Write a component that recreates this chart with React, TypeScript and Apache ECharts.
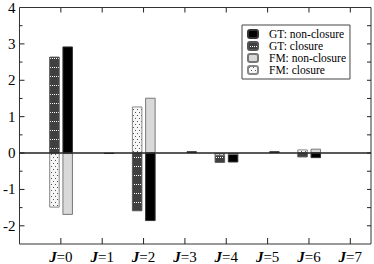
import React, { useEffect, useRef } from "react";
import * as echarts from "echarts";

const J_VALUES = [0, 1, 2, 3, 4, 5, 6, 7];
const SERIES_NAMES = ["GT: non-closure", "GT: closure", "FM: non-closure", "FM: closure"];
const GT_NON_CLOSURE = [2.93, -0.02, -1.87, 0.05, -0.26, 0.05, -0.14, null];
const GT_CLOSURE = [2.65, null, -1.6, null, -0.27, null, -0.12, null];
const FM_NON_CLOSURE = [-1.7, null, 1.52, null, -0.05, null, 0.12, null];
const FM_CLOSURE = [-1.5, null, 1.28, null, -0.07, null, 0.1, null];
const Y_TICKS = [-2, -1.5, -1, -0.5, 0, 0.5, 1, 1.5, 2, 2.5, 3, 3.5];

const X_MIN = -1;
const X_MAX = 7.5;
const Y_MIN = -2.5;
const Y_MAX = 4;
const CLOSURE_OFFSET = -0.155;
const NON_CLOSURE_OFFSET = 0.165;
const FONT = "'Liberation Serif', 'Times New Roman', serif";

function makeCanvas(w: number, h: number, draw: (ctx: CanvasRenderingContext2D) => void) {
  const c = document.createElement("canvas");
  c.width = w;
  c.height = h;
  const ctx = c.getContext("2d")!;
  draw(ctx);
  return c;
}

function toData(values: (number | null)[], offset: number) {
  return J_VALUES.map((j, i) => [j + offset, values[i]]).filter((d) => d[1] !== null);
}

const tickStyle = { stroke: "#222222", lineWidth: 1, fill: null };

export default function App() {
  const ref = useRef<HTMLDivElement>(null);
  useEffect(() => {
    document.body.style.margin = "0";
    if (!ref.current) return;
    const chart = echarts.init(ref.current, null, { renderer: "svg" });

    const gtClosureCanvas = makeCanvas(4, 9, (ctx) => {
      ctx.fillStyle = "#404040";
      ctx.fillRect(0, 0, 4, 9);
      ctx.fillStyle = "#ffffff";
      ctx.fillRect(0, 4, 1, 1);
      ctx.fillRect(2, 4, 1, 1);
    });
    const fmClosureCanvas = makeCanvas(8, 6, (ctx) => {
      ctx.fillStyle = "#f6f6f6";
      ctx.fillRect(0, 0, 8, 6);
      ctx.fillStyle = "#555555";
      ctx.fillRect(1, 1, 1, 1);
      ctx.fillRect(5, 1, 1, 1);
      ctx.fillRect(3, 4, 1, 1);
      ctx.fillRect(7, 4, 1, 1);
    });

    const barCommon = {
      type: "bar" as const,
      barWidth: 10.5,
      barGap: "-100%",
      xAxisIndex: 0,
      yAxisIndex: 0,
    };

    const option: any = {
      animation: false,
      backgroundColor: "#ffffff",
      textStyle: { fontFamily: FONT },
      grid: {
        left: 18,
        top: 7,
        right: 2,
        bottom: 17,
        show: true,
        borderColor: "#333333",
        borderWidth: 1,
        backgroundColor: "transparent",
      },
      legend: {
        orient: "vertical",
        left: 242,
        top: 25,
        itemWidth: 10,
        itemHeight: 8,
        itemGap: 0,
        padding: [3, 4, 3, 5],
        borderColor: "#444444",
        borderWidth: 1,
        backgroundColor: "#ffffff",
        data: SERIES_NAMES,
        textStyle: {
          fontFamily: FONT,
          fontSize: 11.5,
          lineHeight: 11.5,
          color: "#000000",
          padding: [0, 0, 0, 6],
        },
      },
      xAxis: {
        type: "value",
        min: X_MIN,
        max: X_MAX,
        interval: 1,
        splitLine: { show: false },
        axisLine: { show: false, onZero: false },
        axisTick: { show: false },
        axisLabel: {
          margin: 5,
          formatter: (v: number) => (J_VALUES.includes(v) ? `{j|J}=${v}` : ""),
          fontFamily: FONT,
          fontSize: 15,
          color: "#000",
          rich: {
            j: { fontFamily: FONT, fontSize: 15, fontWeight: "bold", fontStyle: "italic", color: "#000" },
          },
        },
      },
      yAxis: {
        type: "value",
        min: Y_MIN,
        max: Y_MAX,
        interval: 0.5,
        splitLine: { show: false },
        axisLine: { show: false, onZero: false },
        axisTick: { show: false },
        axisLabel: {
          margin: 4,
          fontFamily: FONT,
          fontSize: 15,
          color: "#000",
          formatter: (v: number) => (Number.isInteger(v) ? String(v) : ""),
        },
      },
      series: [
        {
          ...barCommon,
          name: SERIES_NAMES[0],
          data: toData(GT_NON_CLOSURE, NON_CLOSURE_OFFSET),
          itemStyle: { color: "#000000", borderColor: "#333333", borderWidth: 1 },
        },
        {
          ...barCommon,
          name: SERIES_NAMES[1],
          data: toData(GT_CLOSURE, CLOSURE_OFFSET),
          itemStyle: {
            color: { image: gtClosureCanvas, repeat: "repeat", imageWidth: 4, imageHeight: 9 },
            borderColor: "#555555",
            borderWidth: 1,
          },
        },
        {
          ...barCommon,
          name: SERIES_NAMES[2],
          data: toData(FM_NON_CLOSURE, NON_CLOSURE_OFFSET),
          itemStyle: { color: "#d9d9d9", borderColor: "#777777", borderWidth: 1 },
        },
        {
          ...barCommon,
          name: SERIES_NAMES[3],
          data: toData(FM_CLOSURE, CLOSURE_OFFSET),
          itemStyle: {
            color: { image: fmClosureCanvas, repeat: "repeat", imageWidth: 8, imageHeight: 6 },
            borderColor: "#888888",
            borderWidth: 1,
          },
          markLine: {
            silent: true,
            symbol: "none",
            label: { show: false },
            lineStyle: { color: "#222222", width: 1.5, type: "solid" },
            data: [{ yAxis: 0 }],
          },
        },
        {
          type: "custom",
          name: "x-ticks",
          silent: true,
          clip: false,
          z: 10,
          xAxisIndex: 0,
          yAxisIndex: 0,
          data: J_VALUES.map((j) => [j, Y_MIN]),
          renderItem: (params: any, api: any) => {
            const x = api.value(0);
            const b = api.coord([x, Y_MIN]);
            const t = api.coord([x, Y_MAX]);
            return {
              type: "group",
              children: [
                { type: "line", shape: { x1: b[0], y1: b[1], x2: b[0], y2: b[1] - 6 }, style: tickStyle },
                { type: "line", shape: { x1: t[0], y1: t[1], x2: t[0], y2: t[1] + 5 }, style: tickStyle },
              ],
            };
          },
        },
        {
          type: "custom",
          name: "y-ticks",
          silent: true,
          clip: false,
          z: 10,
          xAxisIndex: 0,
          yAxisIndex: 0,
          data: Y_TICKS.map((v) => [X_MIN, v]),
          renderItem: (params: any, api: any) => {
            const v = api.value(1);
            const l = api.coord([X_MIN, v]);
            const r = api.coord([X_MAX, v]);
            const len = Number.isInteger(v) ? 5 : 3;
            return {
              type: "group",
              children: [
                { type: "line", shape: { x1: l[0], y1: l[1], x2: l[0] + len, y2: l[1] }, style: tickStyle },
                { type: "line", shape: { x1: r[0], y1: r[1], x2: r[0] - 4, y2: r[1] }, style: tickStyle },
              ],
            };
          },
        },
      ],
    };
    chart.setOption(option);
    return () => chart.dispose();
  }, []);
  return <div ref={ref} style={{ width: 374, height: 264 }} />;
}
